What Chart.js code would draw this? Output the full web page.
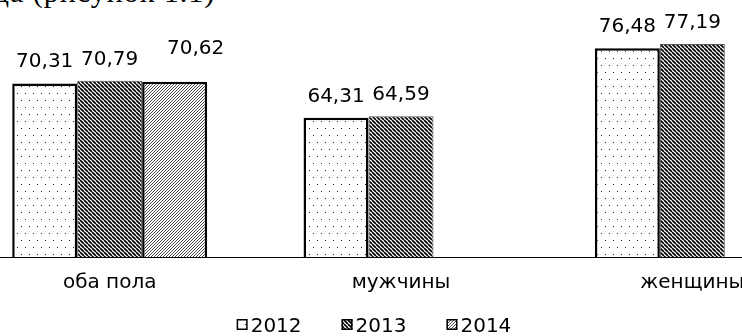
<!DOCTYPE html>
<html>
<head>
<meta charset="utf-8">
<script src="https://cdn.jsdelivr.net/npm/chart.js@4/dist/chart.umd.min.js"></script>
<style>
    html, body { margin: 0; padding: 0; background: #fff; overflow: hidden; width: 742px; height: 336px; }
    #head { position: absolute; left: -34px; top: -25px; font: 30px "Liberation Serif"; letter-spacing: 1px; white-space: nowrap; color: #000; }
    #wrap { position: absolute; left: -36px; top: 0; width: 874px; height: 336px; }
</style>
</head>
<body>
<div id="head">года (рисунок 1.1)</div>
<div id="wrap"><canvas id="lifeChart"></canvas></div>
<script>
const groups = ['оба пола', 'мужчины', 'женщины'];
const years = ['2012', '2013', '2014'];
const v2012 = [70.31, 64.31, 76.48];
const v2013 = [70.79, 64.59, 77.19];
const v2014 = [70.62, null, null];

const FONT = '"DejaVu Sans", sans-serif';

// small tiles for the hatch fills
function makePattern(draw, w, h) {
    const c = document.createElement('canvas');
    c.width = w; c.height = h;
    const g = c.getContext('2d');
    g.fillStyle = '#fff';
    g.fillRect(0, 0, w, h);
    draw(g, w, h);
    return g.createPattern(c, 'repeat');
}

const dots = makePattern((g) => {
    g.fillStyle = '#222';
    g.fillRect(1, 2, 1, 1);
    g.fillRect(5, 9, 1, 1);
}, 8, 14);

const darkHatch = makePattern((g, w, h) => {
    g.strokeStyle = '#000';
    g.lineWidth = 1.7;
    for (let k = -1; k <= 1; k++) {
        g.beginPath();
        g.moveTo(k * w, 0);
        g.lineTo(k * w + w, h);
        g.stroke();
    }
}, 4, 4);

const lightHatch = makePattern((g, w, h) => {
    g.strokeStyle = '#333';
    g.lineWidth = 0.9;
    for (let k = -1; k <= 1; k++) {
        g.beginPath();
        g.moveTo(k * w, h);
        g.lineTo(k * w + w, 0);
        g.stroke();
    }
}, 3, 3);

const fmt = v => v.toFixed(2).replace('.', ',');

// numbers above the bars
const valueLabels = {
    id: 'valueLabels',
    afterDatasetsDraw(chart) {
        const ctx = chart.ctx;
        ctx.save();
        ctx.font = '20px ' + FONT;
        ctx.fillStyle = '#000';
        ctx.textAlign = 'center';
        ctx.textBaseline = 'alphabetic';
        chart.data.datasets.forEach((ds, i) => {
            const shift = ds.labelShift || { x: 0, y: 0 };
            chart.getDatasetMeta(i).data.forEach((bar, j) => {
                const v = ds.data[j];
                if (v == null) return;
                ctx.fillText(fmt(v), bar.x + shift.x, bar.y - 16 + shift.y);
            });
        });
        ctx.restore();
    }
};

// legend row under the axis labels
const bottomLegend = {
    id: 'bottomLegend',
    afterDraw(chart) {
        const ctx = chart.ctx;
        ctx.save();
        ctx.font = '20px ' + FONT;
        ctx.textBaseline = 'alphabetic';
        ctx.textAlign = 'left';
        const box = 11, gap = 3, space = 40;
        const items = chart.data.datasets.map(ds => ({ ds, tw: ctx.measureText(ds.label).width }));
        const total = items.reduce((s, it) => s + box + gap + it.tw, 0) + space * (items.length - 1);
        let x = chart.width / 2 - 27 - total / 2;
        const y = chart.height - 4;
        items.forEach(it => {
            ctx.fillStyle = it.ds.backgroundColor;
            ctx.fillRect(x, y - 13, box, box);
            ctx.strokeStyle = '#000';
            ctx.lineWidth = 1.5;
            ctx.strokeRect(x + 0.75, y - 12.25, box - 1.5, box - 1.5);
            ctx.fillStyle = '#000';
            ctx.fillText(it.ds.label, x + box + gap, y);
            x += box + gap + it.tw + space;
        });
        ctx.restore();
    }
};

const ctx = document.getElementById('lifeChart').getContext('2d');
new Chart(ctx, {
    type: 'bar',
    data: {
        labels: groups,
        datasets: [
            { label: years[0], data: v2012, backgroundColor: dots, borderColor: '#000', borderWidth: 2.5 },
            { label: years[1], data: v2013, backgroundColor: darkHatch, borderColor: '#555', borderWidth: 1 },
            { label: years[2], data: v2014, backgroundColor: lightHatch, borderColor: '#000', borderWidth: 2.5,
              labelShift: { x: 21, y: -12 } }
        ]
    },
    options: {
        responsive: true,
        maintainAspectRatio: false,
        animation: false,
        layout: { padding: { top: 28, bottom: 27, left: 0, right: 0 } },
        datasets: {
            bar: { categoryPercentage: 0.669, barPercentage: 1.0, borderSkipped: false }
        },
        scales: {
            x: {
                grid: { display: false, drawTicks: false },
                border: { display: true, color: '#000', width: 1 },
                ticks: { color: '#000', padding: 14, font: { family: FONT, size: 20 } }
            },
            y: { display: false, min: 40, max: 80 }
        },
        plugins: {
            legend: { display: false },
            tooltip: { enabled: false }
        }
    },
    plugins: [valueLabels, bottomLegend]
});
</script>
</body>
</html>
